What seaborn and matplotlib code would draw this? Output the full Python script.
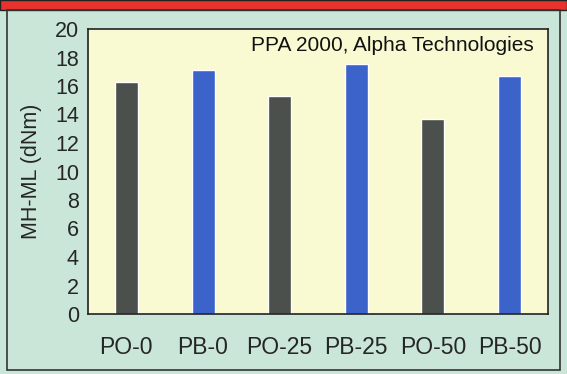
import numpy as np
import pandas as pd
import seaborn as sns
import matplotlib.pyplot as plt
from matplotlib.patches import Rectangle

samples = ['PO-0', 'PB-0', 'PO-25', 'PB-25', 'PO-50', 'PB-50']
mh_ml = [16.3, 17.1, 15.3, 17.55, 13.7, 16.7]
bar_colors = ['#4b504c', '#3b63c9', '#4b504c', '#3b63c9', '#4b504c', '#3b63c9']
y_ticks = [0, 2, 4, 6, 8, 10, 12, 14, 16, 18, 20]

sns.set_style("white")
plt.rcParams['font.family'] = ['Liberation Sans', 'DejaVu Sans']

df = pd.DataFrame({'sample': samples, 'value': mh_ml})

fig = plt.figure(figsize=(5.67, 3.74), dpi=100)
fig.patch.set_facecolor('#c9e6d8')
W, H = 567, 374
ax = fig.add_axes([88 / W, 1 - 314 / H, 460 / W, 285 / H])

sns.barplot(data=df, x='sample', y='value', hue='sample', palette=bar_colors,
            width=0.3, saturation=1, legend=False, ax=ax)

ax.set_facecolor('#fafad2')
ax.set_ylim(0, 20)
ax.set_yticks(y_ticks)
ax.set_xlim(-0.5, 5.5)
ax.tick_params(axis='y', length=0, labelsize=15.5, pad=6.5)
ax.tick_params(axis='x', length=0, labelsize=16.5, pad=16)
ax.set_xlabel('')
ax.set_ylabel('MH-ML (dNm)', fontsize=15.5, labelpad=9)
for s in ax.spines.values():
    s.set_color('#222222')
    s.set_linewidth(1.2)

ax.text(0.968, 0.942, 'PPA 2000, Alpha Technologies', transform=ax.transAxes,
        ha='right', va='center', fontsize=15, color='#111111')

# red header band and outer frame
fig.patches.append(Rectangle((0, 1 - 10 / H), 1, 10 / H, transform=fig.transFigure,
                             facecolor='#e8322e', edgecolor='#222222', linewidth=1,
                             zorder=0))
fig.patches.append(Rectangle((7 / W, 1 - 370 / H), 553 / W, 360 / H,
                             transform=fig.transFigure, facecolor='none',
                             edgecolor='#333333', linewidth=1.2, zorder=0))

fig.savefig('out.png', dpi=100, facecolor=fig.get_facecolor())
